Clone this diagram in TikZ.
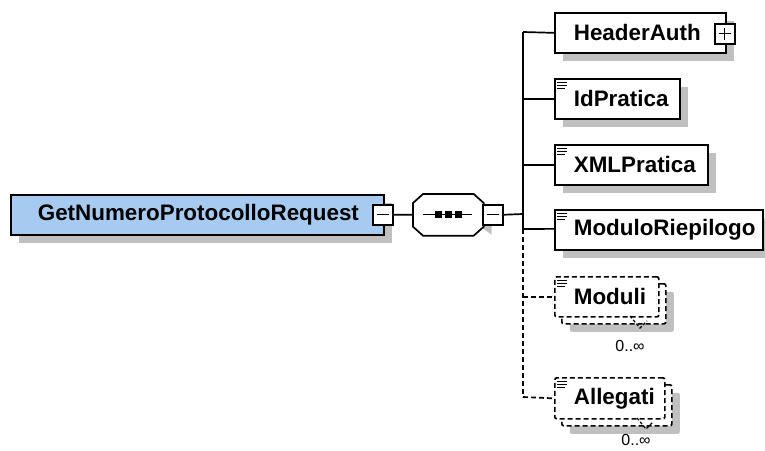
\documentclass[tikz,border=0pt]{standalone}
\usepackage{fontspec}
\setmainfont{Liberation Sans}
\usetikzlibrary{shadows}
\definecolor{rootblue}{RGB}{166,202,240}
\definecolor{shgray}{RGB}{192,192,192}
\begin{document}
\begin{tikzpicture}[x=1pt,y=-1pt,line width=1.7pt,
  shd/.style={general shadow={fill=shgray,draw=none,shadow xshift=8pt,shadow yshift=-8pt}},
  base/.style={draw=black,fill=white,anchor=north west,minimum height=40pt,
    inner xsep=19pt,inner ysep=0pt,align=left,
    font=\fontsize{22.4}{25}\selectfont\bfseries},
  elem/.style={base,shd},
  opt/.style={base,dash pattern=on 5pt off 3pt,rounded corners=2pt},
  back/.style={draw=black,fill=white,shd,dash pattern=on 5pt off 3pt,rounded corners=2pt,
    anchor=north west,inner sep=0pt},
  pmbox/.style={draw=black,fill=white,line width=1.5pt,minimum width=20pt,minimum height=20pt,inner sep=0pt,anchor=north west},
  conn/.style={draw=black,line width=1.7pt},
  dconn/.style={conn,dash pattern=on 5pt off 3pt},
  card/.style={font=\fontsize{16}{18}\selectfont,inner sep=0pt},
  icon/.style={line width=1pt}
]
\useasboundingbox (0,0) rectangle (765,450);

% root element
\node[elem,fill=rootblue,minimum width=373pt,text width=319pt,inner xsep=27pt] (root) at (10,194) {GetNumeroProtocolloRequest};
\node[pmbox] (rootmin) at (372,204) {};
\draw[line width=1.2pt] ([xshift=-6pt]rootmin.center) -- ([xshift=6pt]rootmin.center);

% sequence compositor
\node[draw=none,minimum width=69pt,minimum height=40pt,inner sep=0pt,anchor=north west] (seq) at (413,194) {};
\fill[shgray] ([shift={(18,8)}]seq.north west) -- ([shift={(-2,8)}]seq.north east) -- ([shift={(8,17)}]seq.north east)
  -- ([shift={(8,-1)}]seq.south east) -- ([shift={(-2,-8)}]seq.south east) -- ([shift={(18,-8)}]seq.south west) -- cycle;
\draw[fill=white] ([xshift=10pt]seq.north west) -- ([xshift=-10pt]seq.north east) -- ([yshift=-9pt]seq.north east)
  -- ([yshift=9pt]seq.south east) -- ([xshift=-10pt]seq.south east) -- ([xshift=10pt]seq.south west)
  -- ([yshift=9pt]seq.south west) -- ([yshift=-9pt]seq.north west) -- cycle;
\draw[line width=1.2pt] ([xshift=-25pt]seq.center) -- ([xshift=24pt]seq.center);
\foreach \dx in {-10,0,10}
  \fill ([xshift=\dx pt]seq.center) +(-3.5,-3.5) rectangle +(3.5,3.5);
\node[pmbox] (seqmin) at (482,204) {};
\draw[line width=1.2pt] ([xshift=-6pt]seqmin.center) -- ([xshift=6pt]seqmin.center);

\draw[conn] (rootmin.east) -- (seq.west);

% bus
\coordinate (busT) at (523,32);
\coordinate (busS) at (523,214);
\coordinate (busM) at (523,229);
\coordinate (busB) at (523,397);
\draw[conn] (seqmin.east) -- (busS);
\draw[conn] (busT) -- (busM);
\draw[dconn] (busM) -- (busB);

% children
\node[elem,minimum width=171pt,text width=133pt] (ha) at (554,12) {HeaderAuth};
\node[pmbox] (hapl) at (714,23) {};
\draw[line width=1.2pt] ([xshift=-6pt]hapl.center) -- ([xshift=6pt]hapl.center)
  ([yshift=-6pt]hapl.center) -- ([yshift=6pt]hapl.center);

\node[elem,minimum width=125pt,text width=87pt] (idp) at (554,78) {IdPratica};
\node[elem,minimum width=153pt,text width=115pt] (xmlp) at (554,144) {XMLPratica};
\node[elem,minimum width=208pt,text width=170pt] (mrie) at (554,209) {ModuloRiepilogo};

% optional repeated elements
\node[back,minimum width=104pt,minimum height=40pt] (modback) at (561,283) {};
\node[opt,minimum width=104pt,minimum height=40pt,text width=66pt] (mod) at (554,276) {Moduli};
\node[back,minimum width=110pt,minimum height=41pt] (allback) at (561,384) {};
\node[opt,minimum width=110pt,minimum height=41pt,text width=72pt] (all) at (554,377) {Allegati};

\draw[line width=1.2pt,dash pattern=on 3pt off 2pt] (630,316) -- (640,328) -- (647,321);
\draw[line width=1.2pt,dash pattern=on 3pt off 2pt] (637,418) -- (646,429) -- (653,422);

\node[card] (modcard) at (630,346) {0..∞};
\node[card] (allcard) at (636,440) {0..∞};

% connectors
\draw[conn] (busT) -- (ha.west);
\draw[conn] (idp.west) -- ++(-31,0);
\draw[conn] (xmlp.west) -- ++(-31,0);
\draw[conn] (mrie.west) ++(0,-1) -- (busM);
\draw[dconn] (busM |- mod.west) -- (mod.west);
\draw[dconn] (busB) -- (all.west);

% icons
\foreach \n in {idp,xmlp,mrie,mod,all}{
  \draw[icon] ([xshift=3pt,yshift=-4pt]\n.north west) -- ++(10,0);
  \draw[icon] ([xshift=3pt,yshift=-7pt]\n.north west) -- ++(10,0);
  \draw[icon] ([xshift=3pt,yshift=-10pt]\n.north west) -- ++(8,0);
}
\end{tikzpicture}
\end{document}
